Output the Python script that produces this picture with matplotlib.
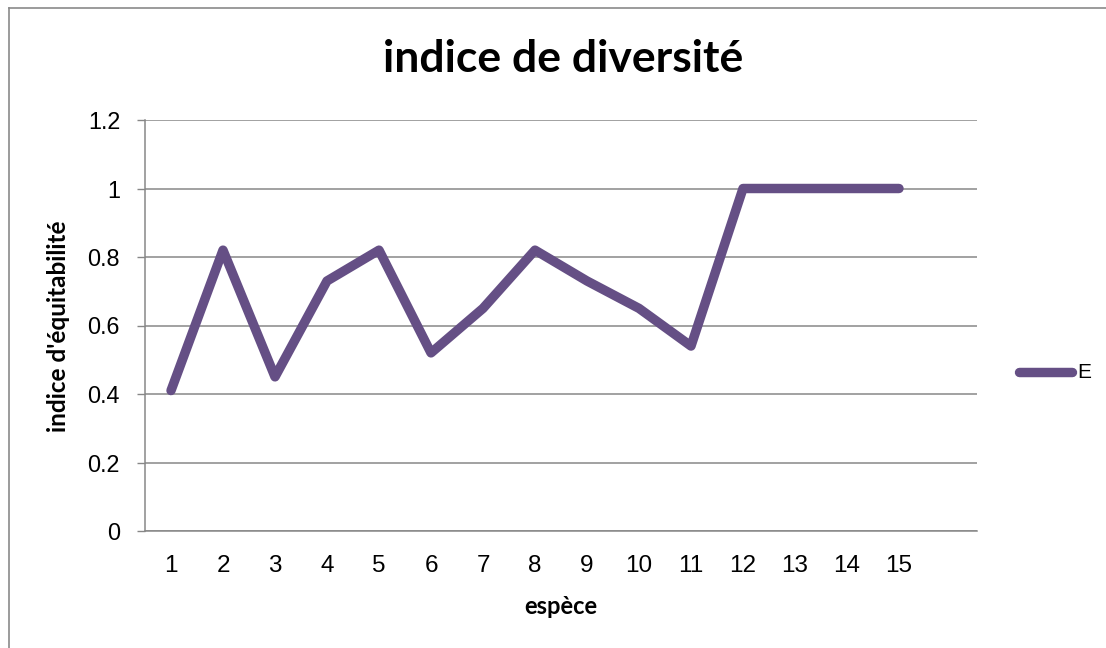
import matplotlib
matplotlib.use("Agg")
import matplotlib.pyplot as plt
from matplotlib.lines import Line2D

categories = list(range(1, 16))
values_E = [0.41, 0.82, 0.45, 0.73, 0.82, 0.52, 0.65, 0.82, 0.73, 0.65, 0.54, 1.0, 1.0, 1.0, 1.0]
y_ticks = [0, 0.2, 0.4, 0.6, 0.8, 1, 1.2]
y_tick_labels = ["0", "0.2", "0.4", "0.6", "0.8", "1", "1.2"]
title = "indice de diversité"
x_title = "espèce"
y_title = "indice d'équitabilité"
series_name = "E"

W, H = 1106, 648
fig = plt.figure(figsize=(W / 100, H / 100), dpi=100)
ax = fig.add_axes([145 / W, (H - 531) / H, 832 / W, 411 / H])

line_color = "#654f85"
grid_color = "#878787"

ax.plot(categories, values_E, color=line_color, lw=6.8, solid_capstyle="round",
        solid_joinstyle="round", zorder=3)

ax.set_xlim(0.5, 16.5)
ax.set_ylim(0, 1.2)
ax.set_yticks(y_ticks)
ax.set_yticklabels(y_tick_labels, fontfamily="Liberation Sans", fontsize=16.8)
ax.set_xticks(categories)
ax.set_xticklabels([str(c) for c in categories], fontfamily="Liberation Sans", fontsize=17.5)
ax.tick_params(axis="y", length=6, width=1, color=grid_color, pad=12)
ax.tick_params(axis="x", length=0, pad=17.5)
ax.grid(axis="y", color=grid_color, lw=1.1, zorder=1)
ax.set_axisbelow(True)
for s in ["top", "right"]:
    ax.spines[s].set_visible(False)
for s in ["left", "bottom"]:
    ax.spines[s].set_color(grid_color)
    ax.spines[s].set_linewidth(1.1)

ax.set_xlabel(x_title, fontfamily="Lato", fontweight="bold", fontsize=17)
ax.xaxis.label.set_va("center")
ax.xaxis.set_label_coords(0.5, (531 - 606) / 411)
ax.set_ylabel(y_title, fontfamily="Lato", fontweight="bold", fontsize=17.5)
ax.yaxis.label.set_va("center")
ax.yaxis.set_label_coords((59 - 145) / 832, (531 - 326) / 411)

fig.text(563 / W, 1 - 59 / H, title, ha="center", va="center",
         fontfamily="Lato", fontweight="bold", fontsize=32)

# legend
fig.add_artist(Line2D([1019 / W, 1072 / W], [1 - 372 / H, 1 - 372 / H], color=line_color,
                      lw=6.8, solid_capstyle="round"))
fig.text(1077 / W, 1 - 372 / H, series_name, ha="left", va="center",
         fontfamily="Liberation Sans", fontsize=15)

# outer chart border
bc = "#8a8a8a"
fig.add_artist(Line2D([9 / W, 9 / W], [0, 1 - 8 / H], color=bc, lw=1.2))
fig.add_artist(Line2D([9 / W, 1], [1 - 8 / H, 1 - 8 / H], color=bc, lw=1.2))

fig.savefig("out.png", dpi=100)
